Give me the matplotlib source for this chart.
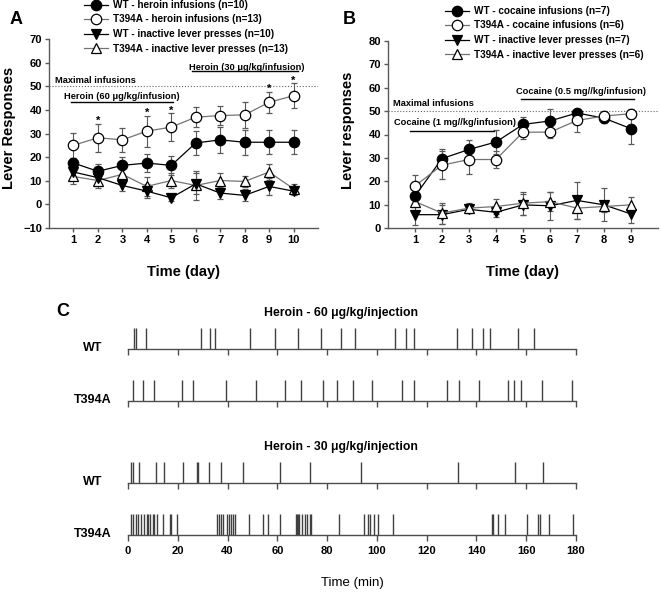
import matplotlib
matplotlib.use('Agg')
import matplotlib.pyplot as plt
import numpy as np

plt.rcParams['font.family'] = ['Liberation Sans', 'DejaVu Sans']
plt.rcParams['font.weight'] = 'bold'

W, H = 660, 592

# ---------------- panel A : heroin ----------------
days_a = np.arange(1, 11)
wt_her = [17.5, 14, 16.5, 17.5, 16.5, 26, 27.3, 26.3, 26.3, 26.3]
wt_her_sem = [2, 3, 3.5, 4, 4, 5, 5.5, 5.3, 5, 5]
t_her = [25, 28.2, 27.3, 31, 32.7, 36.9, 37.6, 37.9, 43.2, 46]
t_her_sem = [5.3, 6, 5, 6.6, 6, 4.2, 4, 5.5, 4.5, 5.3]
wt_inact_a = [13.7, 11.3, 8, 5.6, 2.8, 8.7, 4.8, 3.8, 7.6, 5.6]
wt_inact_a_sem = [3, 3, 2.5, 3, 1.5, 4.5, 2.5, 2.5, 3.5, 1.5]
t_inact_a = [11.8, 10.1, 12.7, 7.6, 10.1, 8, 10.1, 9.7, 13.7, 6.6]
t_inact_a_sem = [3, 3, 3, 4, 3, 6, 3, 2.5, 3.5, 2]
stars_a = [2, 4, 5, 9, 10]
labels_a = ['WT - heroin infusions (n=10)', 'T394A - heroin infusions (n=13)',
            'WT - inactive lever presses (n=10)', 'T394A - inactive lever presses (n=13)']

# ---------------- panel B : cocaine ----------------
days_b = np.arange(1, 10)
wt_coc = [13.7, 29.7, 33.6, 36.8, 44.3, 45.8, 49.2, 47.0, 42.5]
wt_coc_sem = [3, 4, 4, 5, 3, 5, 1, 2, 6.5]
t_coc = [18, 26.9, 29.3, 29.3, 41, 41, 46, 47.9, 48.9]
t_coc_sem = [4.5, 6, 6, 3.5, 3, 2.5, 5, 2, 2]
wt_inact_b = [5.7, 5.7, 8, 6.7, 9.9, 9.5, 11.8, 9.9, 6]
wt_inact_b_sem = [4.5, 4, 1.5, 2, 4.5, 6, 8, 7, 4]
t_inact_b = [11.3, 6.4, 8.5, 9.2, 10.6, 11.3, 8.5, 9.2, 9.9]
t_inact_b_sem = [2.5, 4.5, 2, 3, 5, 4, 4.5, 2.5, 3.5]
labels_b = ['WT - cocaine infusions (n=7)', 'T394A - cocaine infusions (n=6)',
            'WT - inactive lever presses (n=7)', 'T394A - inactive lever presses (n=6)']

# ---------------- panel C : event rasters (min) ----------------
wt_60 = [2.5, 3.1, 7.1, 29.2, 32.9, 34.9, 49.0, 59.1, 68.2, 77.5, 85.4, 91.2,
         107.3, 111.7, 114.9, 132.1, 138.2, 142.5, 145.4, 156.8, 163.1]
t_60 = [2.1, 6.2, 10.4, 21.8, 26.2, 39.4, 51.3, 63.1, 69.5, 78.2, 83.8, 90.5, 97.9,
        110.2, 114.9, 128.3, 133.0, 141.2, 152.8, 155.2, 157.9, 166.2, 178.3]
wt_30 = [1.2, 2.1, 4.4, 11.2, 14.6, 22.0, 27.6, 28.3, 32.5, 37.2, 46.3, 61.1,
         73.1, 93.6, 132.4, 155.5, 166.6]
t_30 = [1.2, 2.1, 3.1, 4.1, 5.1, 6.6, 7.5, 8.2, 8.8, 9.9, 10.6, 11.8, 14.2, 16.9,
        17.3, 19.8, 35.9, 36.7, 37.4, 38.3, 39.9, 40.7, 41.4, 42.1, 43.0, 48.6,
        54.4, 56.1, 61.1, 67.4, 67.8, 68.2, 68.7, 69.8, 71.1, 72.0, 73.1, 73.5,
        84.9, 94.8, 96.3, 97.2, 98.8, 100.6, 106.3, 146.4, 146.8, 148.5, 151.5,
        160.2, 164.9, 165.5, 169.1, 178.7]

fig = plt.figure(figsize=(W / 100, H / 100), dpi=100)


def px_axes(x0, y_top, x1, y_bot):
    return fig.add_axes([x0 / W, 1 - y_bot / H, (x1 - x0) / W, (y_bot - y_top) / H])


def style_axes(ax):
    for s in ['top', 'right']:
        ax.spines[s].set_visible(False)
    for s in ['left', 'bottom']:
        ax.spines[s].set_color('0.35')
        ax.spines[s].set_linewidth(1)
    ax.tick_params(direction='out', length=3, width=1, color='0.35',
                   labelsize=8, pad=2)
    for t in ax.get_xticklabels() + ax.get_yticklabels():
        t.set_fontweight('bold')


def draw_series(ax, x, groups):
    handles = []
    for y, e, mk, fc, lc in groups:
        c = ax.errorbar(x, y, yerr=e, fmt='-', marker=mk, ms=7.5 if mk == 'o' else 7,
                        mfc=fc, mec='k', mew=0.9, color=lc, lw=0.9,
                        ecolor='0.35', elinewidth=0.8, capsize=2.5, capthick=0.8)
        handles.append(c[0])
    return handles


leg_kw = dict(frameon=False, prop={'weight': 'bold', 'size': 7.2}, handlelength=2.4,
              handletextpad=0.5, labelspacing=0.45, borderpad=0, borderaxespad=0)

# ---- A ----
axA = px_axes(49, 39, 318, 228)
hA = draw_series(axA, days_a, [
    (t_inact_a, t_inact_a_sem, '^', 'white', '0.45'),
    (wt_inact_a, wt_inact_a_sem, 'v', 'k', 'k'),
    (wt_her, wt_her_sem, 'o', 'k', 'k'),
    (t_her, t_her_sem, 'o', 'white', '0.45'),
])
hA = [hA[2], hA[3], hA[1], hA[0]]
axA.set_xlim(0, 11)
axA.set_ylim(-10, 70)
axA.set_xticks(days_a)
axA.set_yticks(np.arange(-10, 71, 10))
style_axes(axA)
axA.axhline(50, color='0.4', ls=':', lw=0.8)
axA.text(0.26, 51.4, 'Maximal infusions', fontsize=6.7, va='baseline')
axA.plot([0.88, 5.06], [43.3, 43.3], color='k', lw=1)
axA.text(2.97, 44.4, 'Heroin (60 \u03bcg/kg/infusion)', fontsize=6.7, ha='center', va='baseline')
axA.plot([5.84, 10.2], [56.3, 56.3], color='k', lw=1)
axA.text(8.1, 57.0, 'Heroin (30 \u03bcg/kg/infusion)', fontsize=6.7, ha='center', va='baseline')
for d in stars_a:
    axA.text(d, t_her[d - 1] + t_her_sem[d - 1] + 1.0, '*', fontsize=8, ha='center', va='center')
axA.set_ylabel('Lever Responses', fontsize=10.5, fontweight='bold', va='center')
axA.yaxis.set_label_coords(-0.15, 0.53)
axA.set_xlabel('Time (day)', fontsize=10.5, fontweight='bold', va='center')
axA.xaxis.set_label_coords(0.5, -0.233)
fig.text(10 / W, 1 - 20 / H, 'A', fontsize=13, fontweight='bold', va='center')
fig.legend(hA, labels_a, loc='upper left', bbox_to_anchor=(84 / W, 1 - 0 / H), **leg_kw)

# ---- B ----
axB = px_axes(388, 41, 658, 228)
hB = draw_series(axB, days_b, [
    (wt_inact_b, wt_inact_b_sem, 'v', 'k', 'k'),
    (t_inact_b, t_inact_b_sem, '^', 'white', '0.45'),
    (wt_coc, wt_coc_sem, 'o', 'k', 'k'),
    (t_coc, t_coc_sem, 'o', 'white', '0.45'),
])
hB = [hB[2], hB[3], hB[0], hB[1]]
axB.set_xlim(0, 10)
axB.set_ylim(0, 80)
axB.set_xticks(days_b)
axB.set_yticks(np.arange(0, 81, 10))
style_axes(axB)
axB.axhline(50, color='0.4', ls=':', lw=0.8)
axB.text(0.18, 52.3, 'Maximal infusions', fontsize=6.7, va='baseline')
axB.plot([0.8, 3.94], [41.5, 41.5], color='k', lw=1)
axB.text(2.5, 44.2, 'Cocaine (1 mg//kg/infusion)', fontsize=6.7, ha='center', va='baseline')
axB.plot([4.94, 9.1], [55.1, 55.1], color='k', lw=1)
axB.text(7.15, 57.2, 'Cocaine (0.5 mg//kg/infusion)', fontsize=6.7, ha='center', va='baseline')
axB.set_ylabel('Lever responses', fontsize=10.5, fontweight='bold', va='center')
axB.yaxis.set_label_coords(-0.147, 0.52)
axB.set_xlabel('Time (day)', fontsize=10.5, fontweight='bold', va='center')
axB.xaxis.set_label_coords(0.5, -0.235)
fig.text(343 / W, 1 - 20 / H, 'B', fontsize=13, fontweight='bold', va='center')
fig.legend(hB, labels_b, loc='upper left', bbox_to_anchor=(445 / W, 1 - 6 / H), **leg_kw)

# ---- C ----
rows = [(wt_60, 'WT', 349), (t_60, 'T394A', 401), (wt_30, 'WT', 483), (t_30, 'T394A', 535)]
for i, (ev, lab, base) in enumerate(rows):
    ax = px_axes(128, base - 21, 576, base)
    ax.vlines(ev, 0, 1, color='0.25', lw=1)
    ax.set_xlim(0, 180)
    ax.set_ylim(0, 1)
    for s in ['top', 'right', 'left']:
        ax.spines[s].set_visible(False)
    ax.spines['bottom'].set_color('0.3')
    ax.spines['bottom'].set_linewidth(1)
    ax.set_yticks([])
    ax.set_xticks(np.arange(0, 181, 20))
    ax.tick_params(axis='x', direction='out', length=4, width=1, color='0.3',
                   labelsize=8, pad=4)
    if i < 3:
        ax.set_xticklabels([])
    else:
        for t in ax.get_xticklabels():
            t.set_fontweight('bold')
        ax.set_xlabel('Time (min)', fontsize=9.5, fontweight='normal', va='center')
        ax.xaxis.set_label_coords(0.5, -(583 - base) / 21)
    fig.text(93 / W, 1 - (base - 1) / H, lab, fontsize=9, fontweight='bold',
             ha='center', va='center')

fig.text(341 / W, 1 - 313 / H, 'Heroin - 60 \u03bcg/kg/injection', fontsize=8.8,
         fontweight='bold', ha='center', va='center')
fig.text(341 / W, 1 - 447 / H, 'Heroin - 30 \u03bcg/kg/injection', fontsize=8.8,
         fontweight='bold', ha='center', va='center')
fig.text(63 / W, 1 - 312 / H, 'C', fontsize=13, fontweight='bold', ha='center', va='center')

fig.savefig('out.png', dpi=100)
